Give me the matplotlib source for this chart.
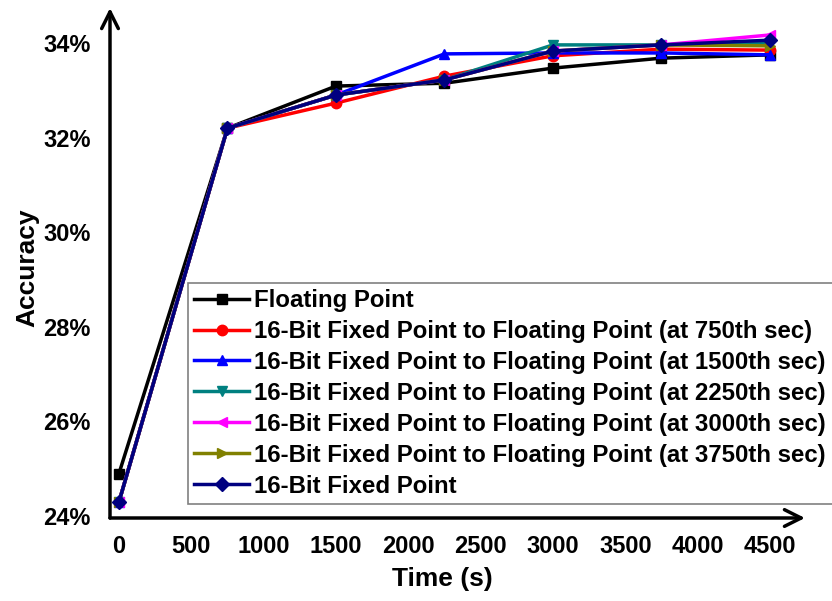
import matplotlib
matplotlib.use('Agg')
import matplotlib.pyplot as plt
from matplotlib.ticker import FuncFormatter

FONT = 'Liberation Sans'
FS = 17
LABEL_FS = 19
W, H = 832, 601

times = [0, 750, 1500, 2250, 3000, 3750, 4500]

floating = [24.90, 32.20, 33.09, 33.15, 33.47, 33.68, 33.75]
switch_750 = [24.30, 32.20, 32.73, 33.30, 33.73, 33.87, 33.85]
switch_1500 = [24.30, 32.20, 32.90, 33.77, 33.79, 33.79, 33.75]
switch_2250 = [24.30, 32.20, 32.90, 33.22, 33.96, 33.96, 34.00]
switch_3000 = [24.30, 32.20, 32.90, 33.22, 33.83, 33.96, 34.17]
switch_3750 = [24.30, 32.20, 32.90, 33.22, 33.83, 33.96, 33.94]
fixed = [24.30, 32.20, 32.90, 33.22, 33.83, 33.96, 34.06]

series = [
    ('Floating Point', floating, 'black', 's'),
    ('16-Bit Fixed Point to Floating Point (at 750th sec)', switch_750, 'red', 'o'),
    ('16-Bit Fixed Point to Floating Point (at 1500th sec)', switch_1500, 'blue', '^'),
    ('16-Bit Fixed Point to Floating Point (at 2250th sec)', switch_2250, '#008080', 'v'),
    ('16-Bit Fixed Point to Floating Point (at 3000th sec)', switch_3000, 'magenta', '<'),
    ('16-Bit Fixed Point to Floating Point (at 3750th sec)', switch_3750, '#808000', '>'),
    ('16-Bit Fixed Point', fixed, '#000080', 'D'),
]

plt.rcParams['font.family'] = [FONT, 'DejaVu Sans']
plt.rcParams['font.weight'] = 'bold'

fig = plt.figure(figsize=(W / 100, H / 100), dpi=100)
ax = fig.add_axes([110 / W, 1 - 518 / H, 695 / W, 510 / H])

for label, ys, color, marker in series:
    ms = 7 if marker == 'D' else 7.5
    ax.plot(times, ys, color=color, marker=marker, markersize=ms, lw=2.5,
            label=label, clip_on=False)

ax.set_xlim(-62, 4742)
ax.set_ylim(23.96, 34.74)
ax.set_xticks(range(0, 5000, 500))
ax.set_yticks(range(24, 35, 2))
ax.yaxis.set_major_formatter(FuncFormatter(lambda v, p: '%d%%' % v))
ax.tick_params(axis='both', length=0, labelsize=FS)
ax.tick_params(axis='y', pad=14)
ax.tick_params(axis='x', pad=12)
for t in ax.get_xticklabels() + ax.get_yticklabels():
    t.set_fontweight('bold')

for s in ax.spines.values():
    s.set_visible(False)

# axis arrows
arrow = dict(arrowstyle='->', lw=2.5, color='black', mutation_scale=30,
             shrinkA=0, shrinkB=0)
ax.annotate('', xy=(1, 0), xytext=(0, 0), xycoords='axes fraction',
            arrowprops=arrow, annotation_clip=False)
ax.annotate('', xy=(0, 1), xytext=(0, 0), xycoords='axes fraction',
            arrowprops=arrow, annotation_clip=False)

fig.text(442 / W, 1 - 579 / H, 'Time (s)', ha='center', va='center',
         fontsize=LABEL_FS, fontweight='bold')
fig.text(27 / W, 1 - 268 / H, 'Accuracy', ha='center', va='center',
         rotation=90, fontsize=LABEL_FS, fontweight='bold')

# legend frame runs off the right edge, as in the original
leg = ax.legend(loc='upper left', mode='expand',
                bbox_to_anchor=(188 / W, 1 - 283 / H, 700 / W, 0),
                bbox_transform=fig.transFigure, fancybox=False,
                edgecolor='gray', framealpha=1, borderaxespad=0,
                handlelength=2.3, handletextpad=0.2, labelspacing=0.33,
                borderpad=0.25, prop={'size': 17.3, 'weight': 'bold'})
leg.get_frame().set_linewidth(1.2)

fig.savefig('out.png', dpi=100)
